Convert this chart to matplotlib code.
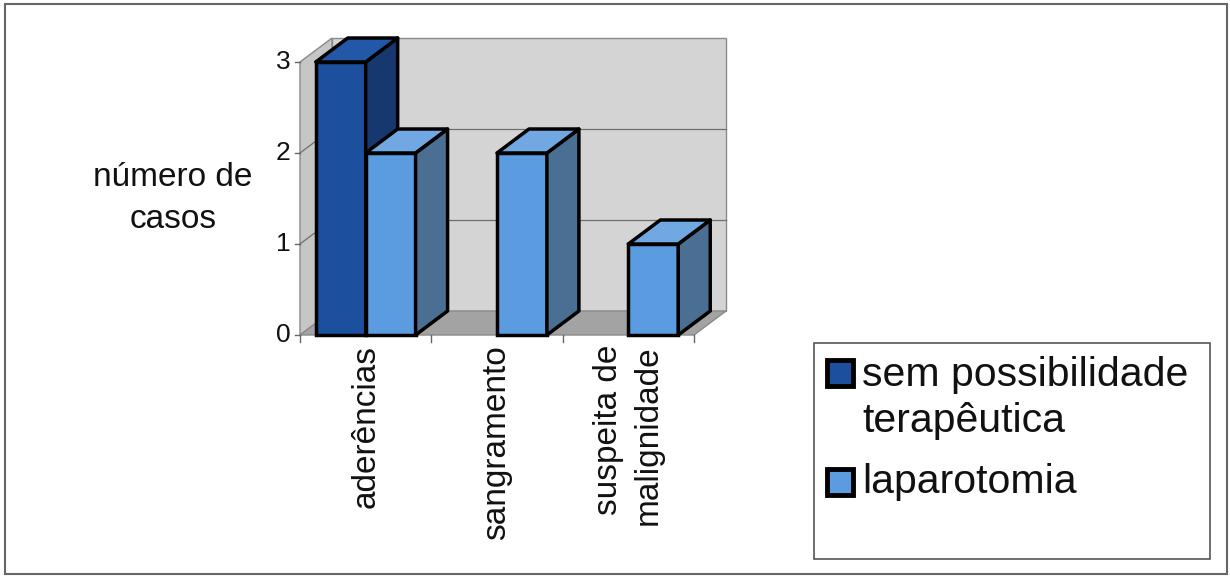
import matplotlib.pyplot as plt
from matplotlib.patches import Polygon, Rectangle

plt.rcParams['font.family'] = ['Liberation Sans', 'DejaVu Sans']

# data
categories = ['aderências', 'sangramento', 'suspeita de\nmalignidade']
series_names = ['sem possibilidade\nterapêutica', 'laparotomia']
sem_possibilidade = [3, 0, 0]
laparotomia = [2, 2, 1]
y_ticks = [0, 1, 2, 3]

# colours: front, side, top
dark = ('#1d4f9f', '#17386e', '#2358a8')
light = ('#5b9ce0', '#4b6e93', '#71a8e2')

W, H = 1230, 578
fig = plt.figure(figsize=(W / 100, H / 100), dpi=100)

# pixel mapping of the plot: x 0 -> 300px, 3 -> 694px ; y 0 -> 335px, 3 -> 62px (from top)
px_x = (694 - 300) / 3
px_y = (335 - 62) / 3
xlim = (-1.6, 3.6)
ylim = (-2.4, 3.5)
left = 300 + xlim[0] * px_x
right = 300 + xlim[1] * px_x
bottom = (H - 335) + ylim[0] * px_y
top = (H - 335) + ylim[1] * px_y
ax = fig.add_axes([left / W, bottom / H, (right - left) / W, (top - bottom) / H])
ax.set_xlim(*xlim)
ax.set_ylim(*ylim)
ax.axis('off')

DX = 32 / px_x
DY = 24 / px_y
ymax = 3
n = len(categories)

# walls and floor
wall_c = '#d4d4d4'
ax.add_patch(Polygon([(DX, DY), (n + DX, DY), (n + DX, ymax + DY), (DX, ymax + DY)],
                     closed=True, fc=wall_c, ec='#8a8a8a', lw=1, zorder=1))
ax.add_patch(Polygon([(0, 0), (DX, DY), (DX, ymax + DY), (0, ymax)],
                     closed=True, fc='#c6c6c6', ec='#8a8a8a', lw=1, zorder=1))
ax.add_patch(Polygon([(0, 0), (n, 0), (n + DX, DY), (DX, DY)],
                     closed=True, fc='#a3a3a3', ec='#8a8a8a', lw=1, zorder=1))

# gridlines
for v in y_ticks[1:-1]:
    ax.plot([DX, n + DX], [v + DY, v + DY], color='#6e6e6e', lw=0.9, zorder=2)
    ax.plot([0, DX], [v, v + DY], color='#6e6e6e', lw=0.9, zorder=2)

# axis ticks
for i in range(n + 1):
    ax.plot([i, i], [0, -0.08], color='#666666', lw=1, zorder=2)
for v in y_ticks:
    ax.plot([-0.04, 0], [v, v], color='#666666', lw=1, zorder=2)
    ax.text(-0.07, v, str(v), ha='right', va='center', fontsize=19, color='#111111')

# 3d bars
bw = 0.38


def bar3d(x0, h, cols, z):
    if h <= 0:
        return
    ax.bar(x0, h, width=bw, align='edge', color=cols[0], edgecolor='black',
           linewidth=2.5, zorder=z)
    ax.add_patch(Polygon([(x0 + bw, 0), (x0 + bw + DX, DY), (x0 + bw + DX, h + DY), (x0 + bw, h)],
                         closed=True, fc=cols[1], ec='black', lw=2.5, joinstyle='round', zorder=z))
    ax.add_patch(Polygon([(x0, h), (x0 + bw, h), (x0 + bw + DX, h + DY), (x0 + DX, h + DY)],
                         closed=True, fc=cols[2], ec='black', lw=2.5, joinstyle='round', zorder=z))


for i in range(n):
    c = i + 0.5
    bar3d(c - bw, sem_possibilidade[i], dark, 3 + i * 2)
    bar3d(c, laparotomia[i], light, 4 + i * 2)

# category labels
for i, lab in enumerate(categories):
    ax.text(i + 0.5, -0.11, lab, rotation=90, ha='center', va='top',
            multialignment='right', fontsize=24, linespacing=1.4, color='#111111')

# y label
ax.text(-0.967, 1.5, 'número de\ncasos', ha='center', va='center', fontsize=24,
        linespacing=1.45, color='#111111')

# legend, drawn as in the original box
fig.patches.append(Rectangle((814 / W, (H - 559) / H), 396 / W, 216 / H,
                             transform=fig.transFigure, fill=False, ec='#555555', lw=1.2))
leg_y = [(373, 398), (482, 482)]
for cols, name, (sq_c, txt_c) in zip([dark, light], series_names, leg_y):
    fig.patches.append(Rectangle((827 / W, (H - sq_c - 13) / H), 26 / W, 26 / H,
                                 transform=fig.transFigure, fc=cols[0], ec='black', lw=3.5))
    fig.text(862 / W, (H - txt_c) / H, name, ha='left', va='center', fontsize=29.5,
             linespacing=1.25, color='#111111')

# outer border
fig.patches.append(Rectangle((5 / W, 4 / H), 1222 / W, 570 / H, transform=fig.transFigure,
                             fill=False, ec='#666666', lw=1.5))

fig.savefig('out.png', dpi=100)
